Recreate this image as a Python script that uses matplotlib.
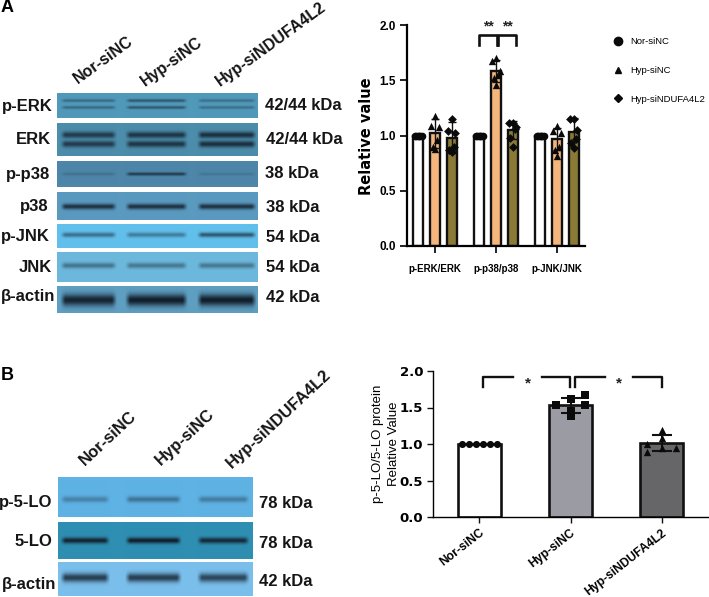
import numpy as np
import matplotlib
matplotlib.use("Agg")
import matplotlib.pyplot as plt
from matplotlib.lines import Line2D

W, H = 709, 597
SANS = "Liberation Sans"

# ---------- data ----------
groups_a = ["p-ERK/ERK", "p-p38/p38", "p-JNK/JNK"]
series_names = ["Nor-siNC", "Hyp-siNC", "Hyp-siNDUFA4L2"]
nor_a = [1.0, 1.0, 1.0]
hyp_a = [1.02, 1.58, 0.97]
ndu_a = [0.98, 1.05, 1.03]
hyp_a_err = [0.13, 0.10, 0.10]
ndu_a_err = [0.14, 0.08, 0.13]
hyp_a_pts = [[1.18, 1.09, 1.08, 0.96, 0.90, 0.88],
             [1.70, 1.67, 1.58, 1.55, 1.52, 1.46],
             [1.09, 1.04, 1.02, 0.90, 0.87, 0.81]]
ndu_a_pts = [[1.15, 1.04, 1.02, 0.90, 0.87, 0.85],
             [1.11, 1.11, 1.08, 1.06, 0.98, 0.90],
             [1.15, 1.15, 1.05, 0.97, 0.93, 0.89]]
cats_b = ["Nor-siNC", "Hyp-siNC", "Hyp-siNDUFA4L2"]
vals_b = [1.0, 1.53, 1.02]
errs_b = [0.0, 0.10, 0.11]
pts_b = [[1.0, 1.0, 1.0, 1.0, 1.0, 1.0],
         [1.67, 1.62, 1.53, 1.53, 1.45, 1.38],
         [1.19, 1.08, 1.0, 0.95, 0.95, 0.89]]

# blot panels: label, size label, top, bottom, background, band rows, band half-height, lane darkness
blots_a = [
    ("p-ERK", "42/44 kDa", 93, 118, "#5199ba", [0.30, 0.58], 1.5, [0.4, 0.55, 0.35]),
    ("ERK", "42/44 kDa", 123, 156, "#4c8dab", [0.36, 0.64], 3.2, [0.75, 0.8, 0.85]),
    ("p-p38", "38 kDa", 161, 187, "#4d86a8", [0.50], 1.6, [0.2, 0.75, 0.15]),
    ("p38", "38 kDa", 192, 220, "#5b9ac0", [0.52], 2.8, [0.85, 0.85, 0.85]),
    ("p-JNK", "54 kDa", 224, 248, "#62c0ec", [0.45], 2.4, [0.5, 0.42, 0.65]),
    ("JNK", "54 kDa", 252, 282, "#6db9dd", [0.45], 2.8, [0.45, 0.42, 0.42]),
    ("β-actin", "42 kDa", 286, 313, "#5f9fc2", [0.52], 6.0, [0.95, 1.0, 1.0]),
]
label_pos_a = [(53, 107), (51, 140), (50, 175), (49, 207), (50, 237), (52, 267), (55, 297)]
size_pos_a = [(265, 106), (266, 140), (265, 174), (266, 208), (266, 237), (266, 267), (266, 297)]
blots_b = [
    ("p-5-LO", "78 kDa", 477, 517, "#5fb2e4", [0.56], 3.0, [0.32, 0.42, 0.36]),
    ("5-LO", "78 kDa", 522, 559, "#2f8fb3", [0.50], 3.0, [0.95, 1.0, 0.9]),
    ("β-actin", "42 kDa", 562, 596, "#7bbfec", [0.46], 4.5, [0.8, 0.8, 0.75]),
]
label_pos_b = [(52, 503), (52, 541), (56, 585)]
size_pos_b = [(259, 503), (259, 543), (259, 581)]
lanes_a = [(60, 117), (125, 188), (197, 257)]
lanes_b = [(60, 110), (125, 182), (197, 250)]

WHITE, ORANGE, OLIVE = "#ffffff", "#f4b67c", "#8a7a36"
GRAY, DARK = "#9b9ba3", "#666668"
INK = "#151515"
jit = [0.0, -0.06, 0.06, 0.04, -0.04, 0.0]

fig = plt.figure(figsize=(W / 100, H / 100), dpi=100, facecolor="white")
bg = fig.add_axes([0, 0, 1, 1])
bg.set_xlim(0, W); bg.set_ylim(H, 0); bg.axis("off")


def draw_blot(x0, x1, y0, y1, color, rows, half, dark, lanes):
    nx, ny = int(x1 - x0) * 2, int(y1 - y0) * 2
    xs = np.linspace(x0, x1, nx)
    ys = np.linspace(0, 1, ny)
    amt = np.zeros((ny, nx))
    sig = half / (y1 - y0)
    for (a, b), d in zip(lanes, dark):
        mask = np.clip((xs - a) / 5, 0, 1) * np.clip((b - xs) / 5, 0, 1)
        for r in rows:
            amt = np.maximum(amt, d * np.outer(np.exp(-((ys - r) / sig) ** 2), mask))
    rgb = np.array(matplotlib.colors.to_rgb(color))
    band = np.array([0.07, 0.12, 0.17])
    img = rgb[None, None, :] * (1 - amt[..., None]) + band[None, None, :] * amt[..., None]
    bg.imshow(img, extent=(x0, x1, y1, y0), aspect="auto", interpolation="bilinear", zorder=1)


def blot_text(x, y, s, ha):
    bg.text(x, y, s, ha=ha, va="center", fontsize=12, fontweight="bold", family=SANS, color=INK)


for (name, size, t, b, col, rows, half, dark), lp, sp in zip(blots_a, label_pos_a, size_pos_a):
    draw_blot(57, 258, t, b, col, rows, half, dark, lanes_a)
    blot_text(lp[0], lp[1], name, "right")
    blot_text(sp[0], sp[1], size, "left")
for (name, size, t, b, col, rows, half, dark), lp, sp in zip(blots_b, label_pos_b, size_pos_b):
    draw_blot(58, 253, t, b, col, rows, half, dark, lanes_b)
    blot_text(lp[0], lp[1], name, "right")
    blot_text(sp[0], sp[1], size, "left")
bg.set_xlim(0, W); bg.set_ylim(H, 0)

for (x, y), s in zip([(80, 86), (147, 89), (222, 89)], series_names):
    bg.text(x, y, s, rotation=36, rotation_mode="anchor", ha="left", va="bottom",
            fontsize=11.5, fontweight="bold", family=SANS, color=INK)
for (x, y), s in zip([(87, 468), (163, 468), (234, 471)], series_names):
    bg.text(x, y, s, rotation=43, rotation_mode="anchor", ha="left", va="bottom",
            fontsize=12, fontweight="bold", family=SANS, color=INK)
bg.text(1, 8, "A", fontsize=13, fontweight="bold", family=SANS, va="center")
bg.text(1, 375, "B", fontsize=13, fontweight="bold", family=SANS, va="center")


def axes_px(l, r, t, b):
    return fig.add_axes([l / W, 1 - b / H, (r - l) / W, (b - t) / H], facecolor="none")


# ---------- panel A chart ----------
ax = axes_px(407, 585, 25, 246)
ax.set_xlim(-0.459, 2.459); ax.set_ylim(0, 2)
off, bw = 0.273, 0.164
x = np.arange(3)
for dx, vals, c in [(-off, nor_a, WHITE), (0, hyp_a, ORANGE), (off, ndu_a, OLIVE)]:
    ax.bar(x + dx, vals, bw, color=c, edgecolor="#111111", linewidth=1.7, zorder=2)
ax.errorbar(x, hyp_a, yerr=hyp_a_err, fmt="none", ecolor="#111111", elinewidth=1, capsize=3, zorder=3)
ax.errorbar(x + off, ndu_a, yerr=ndu_a_err, fmt="none", ecolor="#111111", elinewidth=1, capsize=3, zorder=3)
for i in range(3):
    ax.scatter(i - off + np.linspace(-0.055, 0.055, 6), [nor_a[i]] * 6, s=30, marker="o", color="#0a0a0a", linewidth=0, zorder=4)
    ax.scatter(i + np.array(jit), hyp_a_pts[i], s=28, marker="^", color="#0a0a0a", linewidth=0, zorder=4)
    ax.scatter(i + off + np.array(jit), ndu_a_pts[i], s=20, marker="D", color="#0a0a0a", linewidth=0, zorder=4)
for a, b in [(0.727, 1.01), (1.04, 1.32)]:
    ax.plot([a, a, b, b], [1.82, 1.91, 1.91, 1.82], color="#111111", lw=1.9, clip_on=False)
    ax.text((a + b) / 2, 1.92, "**", ha="center", va="bottom", fontsize=10, fontweight="bold", family=SANS, color="#222222")
ax.set_xticks(x, groups_a, fontsize=7, fontweight="bold", family=SANS)
ax.set_yticks([0, 0.5, 1, 1.5, 2], ["0.0", "0.5", "1.0", "1.5", "2.0"], fontsize=8.5, fontweight="bold", family=SANS)
ax.tick_params(length=5, width=1.3, pad=3, color="#111111")
ax.tick_params(axis="x", pad=8)
ax.set_ylabel("Relative value", fontsize=10.5, fontweight="bold", family="DejaVu Sans")
ax.yaxis.set_label_coords(-0.185, 0.495)
for s in ["top", "right"]:
    ax.spines[s].set_visible(False)
for s in ["left", "bottom"]:
    ax.spines[s].set_linewidth(1.6)
handles = [Line2D([], [], ls="none", marker=m, color="#0a0a0a", ms=ms)
           for m, ms in [("o", 6), ("^", 5), ("D", 4)]]
leg = ax.legend(handles, series_names, loc="upper left", bbox_to_anchor=(610 / W, 1 - 37 / H),
                bbox_transform=fig.transFigure, frameon=False, handletextpad=0.55, labelspacing=2.1,
                prop={"family": SANS, "size": 6.8}, borderpad=0, borderaxespad=0, handlelength=1.6)

# ---------- panel B chart ----------
ax2 = axes_px(433, 708, 371, 517)
ax2.set_xlim(-0.508, 2.508); ax2.set_ylim(0, 2)
xb = np.arange(3)
ax2.bar(xb, vals_b, 0.475, color=[WHITE, GRAY, DARK], edgecolor="#111111", linewidth=1.9, zorder=2)
ax2.errorbar(xb[1:], vals_b[1:], yerr=errs_b[1:], fmt="none", ecolor="#111111", elinewidth=1.5, capsize=7, capthick=1.5, zorder=3)
ax2.scatter(np.linspace(-0.19, 0.19, 6), pts_b[0], s=26, marker="o", color="#0a0a0a", linewidth=0, zorder=4)
ax2.scatter(1 + np.array([0.16, 0, -0.16, 0.16, 0, 0]), pts_b[1], s=30, marker="s", color="#0a0a0a", linewidth=0, zorder=4)
ax2.scatter(2 + np.array([0, 0, -0.16, 0, 0.16, -0.16]), pts_b[2], s=28, marker="^", color="#0a0a0a", linewidth=0, zorder=4)
for a, m1, m2, b in [(0.044, 0.373, 0.684, 0.995), (1.05, 1.38, 1.69, 2.0)]:
    ax2.plot([a, a, m1], [1.785, 1.92, 1.92], color="#111111", lw=1.7, clip_on=False)
    ax2.plot([m2, b, b], [1.92, 1.92, 1.785], color="#111111", lw=1.7, clip_on=False)
    ax2.text((m1 + m2) / 2, 1.83, "*", ha="center", va="center", fontsize=11, fontweight="bold", family=SANS, color="#222222")
ax2.set_xticks(xb, cats_b, rotation=38, ha="right", rotation_mode="anchor", fontsize=8.7, fontweight="bold", family=SANS)
ax2.set_yticks([0, 0.5, 1, 1.5, 2], ["0.0", "0.5", "1.0", "1.5", "2.0"], fontsize=9.5, fontweight="bold", family="DejaVu Sans")
ax2.tick_params(length=4, width=1, pad=3, color="#111111")
ax2.set_ylabel("p-5-LO/5-LO protein\nRelative Value", fontsize=9.5, family=SANS, linespacing=1.45)
ax2.yaxis.set_label_coords(-0.12, 0.5)
for s in ["top", "right"]:
    ax2.spines[s].set_visible(False)
for s in ["left", "bottom"]:
    ax2.spines[s].set_linewidth(1.0)

fig.savefig("out.png", dpi=100)
